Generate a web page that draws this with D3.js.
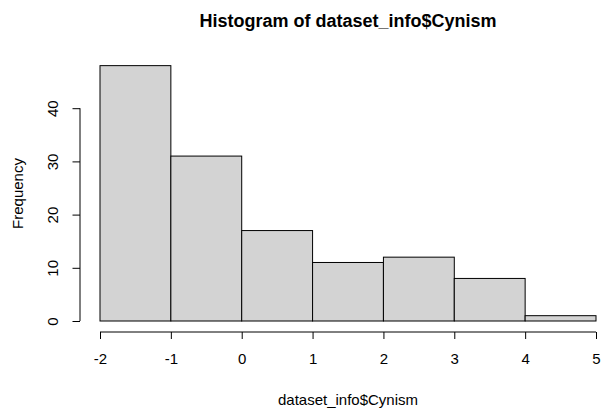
<!DOCTYPE html>
<html>
<head>
<meta charset="utf-8">
<script src="https://cdn.jsdelivr.net/npm/d3@7"></script>
<style>
  html, body { margin: 0; padding: 0; background: #fff; }
  svg { display: block; font-family: "Liberation Sans", Arial, sans-serif; }
</style>
</head>
<body>
<svg id="chart" width="605" height="408"></svg>
<script>
// Histogram bins (break points) and counts per bin
const breaks = [-2, -1, 0, 1, 2, 3, 4, 5];
const counts = [48, 31, 17, 11, 12, 8, 1];
const xTicks = [-2, -1, 0, 1, 2, 3, 4, 5];
const yTicks = [0, 10, 20, 30, 40];

const titleText = "Histogram of dataset_info$Cynism";
const xLabel = "dataset_info$Cynism";
const yLabel = "Frequency";

const FONT = "Liberation Sans, Arial, sans-serif";
const svg = d3.select("#chart");

const x = d3.scaleLinear().domain([-2, 5]).range([100, 596]);
const y = d3.scaleLinear().domain([0, 50]).range([321, 55]);

const bins = counts.map((c, i) => ({ x0: breaks[i], x1: breaks[i + 1], n: c }));

// Bars
svg.append("g")
  .selectAll("rect")
  .data(bins)
  .join("rect")
  .attr("x", d => x(d.x0))
  .attr("y", d => y(d.n))
  .attr("width", d => x(d.x1) - x(d.x0))
  .attr("height", d => y(0) - y(d.n))
  .attr("fill", "#d3d3d3")
  .attr("stroke", "#000")
  .attr("stroke-width", 1);

const fmt = d => String(d);

// X axis (offset below the bars)
const xAxis = svg.append("g")
  .attr("transform", "translate(0,332)")
  .call(d3.axisBottom(x).tickValues(xTicks).tickSize(7).tickPadding(14).tickFormat(fmt));
xAxis.select(".domain").attr("d", `M${x(-2)},0H${x(5)}`);

// Y axis (offset left of the bars)
const yAxis = svg.append("g")
  .attr("transform", "translate(80,0)")
  .call(d3.axisLeft(y).tickValues(yTicks).tickSize(7.5).tickFormat(fmt));
yAxis.select(".domain").attr("d", `M0,${y(0)}V${y(40)}`);
yAxis.selectAll(".tick text")
  .attr("transform", "rotate(-90)")
  .attr("x", 0)
  .attr("y", -22.5)
  .attr("dy", 0)
  .attr("text-anchor", "middle");

svg.selectAll(".tick text").attr("font-size", 15).attr("fill", "#000")
  .attr("font-family", FONT);
svg.selectAll(".tick line, .domain").attr("stroke", "#000");

// Title
svg.append("text")
  .attr("x", 348)
  .attr("y", 26.5)
  .attr("text-anchor", "middle")
  .attr("font-size", 18)
  .attr("font-weight", "bold")
  .attr("font-family", FONT)
  .text(titleText);

// Axis titles
svg.append("text")
  .attr("x", 348)
  .attr("y", 405)
  .attr("text-anchor", "middle")
  .attr("font-size", 15)
  .attr("font-family", FONT)
  .text(xLabel);

svg.append("text")
  .attr("transform", "translate(22.5,193.5) rotate(-90)")
  .attr("text-anchor", "middle")
  .attr("font-size", 15)
  .attr("font-family", FONT)
  .text(yLabel);
</script>
</body>
</html>
